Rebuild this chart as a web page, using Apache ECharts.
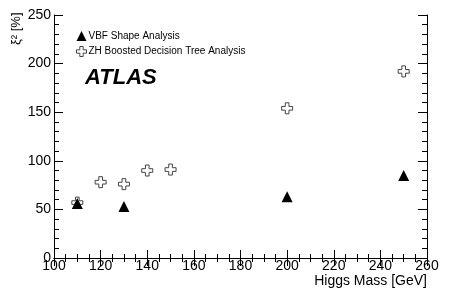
<!DOCTYPE html>
<html><head><meta charset="utf-8">
<script src="https://cdn.jsdelivr.net/npm/echarts@6/dist/echarts.min.js"></script>
<style>html,body{margin:0;padding:0;background:#fff}#c{width:450px;height:305px}</style>
</head><body><div id="c"></div>
<script>
const vbfMass = [110, 130, 200, 250];
const vbfXi2 = [56, 53, 63, 85];
const zhMass = [110, 120, 130, 140, 150, 200, 250];
const zhXi2 = [57, 78, 76, 90, 91, 154, 192];
const seriesNames = ['VBF Shape Analysis', 'ZH Boosted Decision Tree Analysis'];

const crossPath = 'path://M1,0 L2,0 L2,1 L3,1 L3,2 L2,2 L2,3 L1,3 L1,2 L0,2 L0,1 L1,1 Z';
const FONT = 'Liberation Sans, Arial, Helvetica, sans-serif';
const chart = echarts.init(document.getElementById('c'));
const axisLine = {show: true, lineStyle: {color: '#000', width: 1}};
function xa(pos, labels) {
  return {type: 'value', position: pos, min: 100, max: 260, interval: 20,
    axisLine: axisLine,
    axisTick: {show: true, inside: true, length: 8, lineStyle: {color: '#000'}},
    minorTick: {show: true, splitNumber: 4, length: 4, lineStyle: {color: '#000'}},
    axisLabel: {show: labels, color: '#000', fontSize: 14, fontFamily: FONT, margin: 1},
    splitLine: {show: false},
    name: labels ? 'Higgs Mass [GeV]' : '', nameLocation: 'end', nameGap: 0,
    nameTextStyle: {color: '#000', fontSize: 14, fontFamily: FONT, align: 'right', verticalAlign: 'top', padding: [16, 0, 0, 0]}
  };
}
function ya(pos, labels) {
  return {type: 'value', position: pos, min: 0, max: 250, interval: 50,
    axisLine: axisLine,
    axisTick: {show: true, inside: true, length: 9, lineStyle: {color: '#000'}},
    minorTick: {show: true, splitNumber: 5, length: 5, lineStyle: {color: '#000'}},
    axisLabel: {show: labels, color: '#000', fontSize: 14, fontFamily: FONT, margin: 3},
    splitLine: {show: false}
  };
}
const option = {
  animation: false,
  backgroundColor: '#fff',
  grid: {left: 54, right: 23, top: 15, bottom: 47, containLabel: false},
  xAxis: [xa('bottom', true), xa('top', false)],
  yAxis: [ya('left', true), ya('right', false)],
  legend: {
    orient: 'vertical', left: 71, top: 26, itemGap: 5, itemWidth: 10, itemHeight: 10,
    textStyle: {color: '#000', fontSize: 10, fontFamily: FONT, padding: [0, 0, 0, -3]},
    data: [
      {name: seriesNames[0], icon: 'triangle', itemStyle: {color: '#000'}},
      {name: seriesNames[1], icon: crossPath, itemStyle: {color: '#fff', borderColor: '#444', borderWidth: 1}}
    ]
  },
  graphic: [
    {type: 'text', left: 85, top: 67, style: {text: 'ATLAS', font: 'italic bold 22px ' + FONT, fill: '#000'}},
    {type: 'text', x: 10, y: 45, rotation: Math.PI / 2, style: {text: 'ξ² [%]', font: '13px ' + FONT, fill: '#000'}}
  ],
  series: [
    {name: seriesNames[1], type: 'scatter', xAxisIndex: 0, yAxisIndex: 0, z: 2,
      symbol: crossPath, symbolSize: 11,
      itemStyle: {color: '#fff', borderColor: '#444', borderWidth: 1, opacity: 1},
      data: zhMass.map((m, i) => [m, zhXi2[i]])},
    {name: seriesNames[0], type: 'scatter', xAxisIndex: 0, yAxisIndex: 0, z: 3,
      symbol: 'triangle', symbolSize: 11,
      itemStyle: {color: '#000', opacity: 1},
      data: vbfMass.map((m, i) => [m, vbfXi2[i]])}
  ]
};
chart.setOption(option);
</script></body></html>
